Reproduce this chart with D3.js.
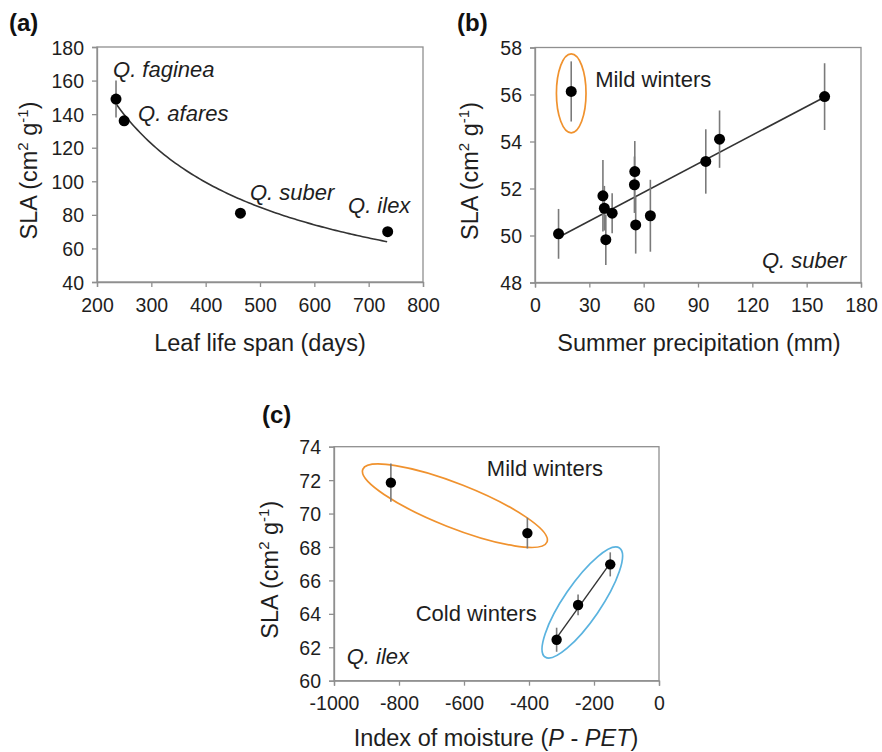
<!DOCTYPE html>
<html>
<head>
<meta charset="utf-8">
<script src="https://cdn.jsdelivr.net/npm/d3@7"></script>
<style>
  html, body { margin: 0; padding: 0; background: #fff; }
  svg { display: block; font-family: Arial, "Liberation Sans", Helvetica, sans-serif; }
</style>
</head>
<body>
<svg id="chart" width="882" height="752"></svg>
<script>
// ---------------- DATA ----------------
// Panel (a)
const aSpecies = ["Q. faginea", "Q. afares", "Q. suber", "Q. ilex"];
const aLifeSpan = [235, 250, 464, 735];
const aSLA = [149, 136, 81, 70];
const aErr = [11, 2.5, 1.5, 1.5];
const aFit = { a: 7653, b: -0.725, from: 234, to: 735 }; // power fit SLA = a * LLS^b
const aXTicks = [200, 300, 400, 500, 600, 700, 800];
const aYTicks = [40, 60, 80, 100, 120, 140, 160, 180];
const aLabelX = [229.5, 275.5, 481.6, 662];
const aLabelY = [162.1, 135.9, 88.9, 81.1];

// Panel (b)
const bPrecip = [13, 20, 37.5, 38.3, 39.1, 42.6, 55.1, 54.9, 55.6, 63.7, 94.3, 101.9, 159.9];
const bSLA = [50.07, 56.13, 51.69, 51.16, 49.82, 50.95, 52.72, 52.16, 50.45, 50.84, 53.15, 54.1, 55.91];
const bErr = [1.06, 1.28, 1.52, 0.95, 1.07, 0.85, 1.3, 1.2, 1.22, 1.53, 1.37, 1.22, 1.42];
const bFit = { intercept: 49.40, slope: 0.0406, from: 13, to: 160 };
const bXTicks = [0, 30, 60, 90, 120, 150, 180];
const bYTicks = [48, 50, 52, 54, 56, 58];

// Panel (c)
const cMoisture = [-825, -405, -315, -249, -150];
const cSLA = [71.85, 68.83, 62.45, 64.53, 66.96];
const cErr = [1.15, 0.92, 0.72, 0.62, 0.72];
const cFit = { intercept: 71.10, slope: 0.0271, from: -315, to: -150 };
const cXTicks = [-1000, -800, -600, -400, -200, 0];
const cYTicks = [60, 62, 64, 66, 68, 70, 72, 74];

// ---------------- STYLE ----------------
const TEXT = "#1e1e1e";
const FRAME = "#8f8f8f";
const ERRC = "#7a7a7a";
const LINEC = "#333";
const ORANGE = "#f0922e";
const BLUE = "#5ab3df";
const TICKFS = 19.5, TITLEFS = 23.5, ANNFS = 22;

const svg = d3.select("#chart");

function panel(cfg) {
  const g = svg.append("g");
  const x = d3.scaleLinear().domain(cfg.xDomain).range([cfg.left, cfg.right]);
  const y = d3.scaleLinear().domain(cfg.yDomain).range([cfg.bottom, cfg.top]);

  // frame
  g.append("rect").attr("x", cfg.left).attr("y", cfg.top)
    .attr("width", cfg.right - cfg.left).attr("height", cfg.bottom - cfg.top)
    .attr("fill", "none").attr("stroke", FRAME).attr("stroke-width", 1.3);

  const fmt = d => String(d);
  const xa = g.append("g").attr("transform", `translate(0,${cfg.bottom})`)
    .call(d3.axisBottom(x).tickValues(cfg.xTicks).tickSize(5).tickPadding(9).tickFormat(fmt));
  const ya = g.append("g").attr("transform", `translate(${cfg.left},0)`)
    .call(d3.axisLeft(y).tickValues(cfg.yTicks).tickSize(5).tickPadding(8).tickFormat(fmt));
  [xa, ya].forEach(a => {
    a.select(".domain").attr("stroke", FRAME).attr("stroke-width", 1.3);
    a.selectAll(".tick line").attr("stroke", FRAME).attr("stroke-width", 1.3);
    a.selectAll(".tick text").attr("fill", TEXT).attr("font-size", TICKFS)
      .attr("font-family", "Arial, 'Liberation Sans', sans-serif");
  });
  xa.selectAll(".tick text").attr("dy", "0.8em");
  ya.selectAll(".tick text").attr("dy", "0.36em");

  // panel letter
  g.append("text").attr("x", cfg.letterX).attr("y", cfg.letterY)
    .attr("font-size", 24).attr("font-weight", "bold").attr("fill", "#111")
    .text(cfg.letter);

  // y title SLA (cm2 g-1)
  const yt = g.append("text")
    .attr("transform", `translate(${cfg.yTitleX},${(cfg.top + cfg.bottom) / 2 + 6}) rotate(-90)`)
    .attr("text-anchor", "middle").attr("font-size", TITLEFS).attr("fill", TEXT);
  yt.append("tspan").text("SLA (cm");
  yt.append("tspan").attr("dy", -9).attr("font-size", 15).text("2");
  yt.append("tspan").attr("dy", 9).text(" g");
  yt.append("tspan").attr("dy", -9).attr("font-size", 15).text("-1");
  yt.append("tspan").attr("dy", 9).text(")");

  return { g, x, y };
}

function errorBars(p, xs, ys, es) {
  p.g.append("g").selectAll("line").data(xs).join("line")
    .attr("x1", (d) => p.x(d)).attr("x2", (d) => p.x(d))
    .attr("y1", (d, i) => p.y(ys[i] - es[i])).attr("y2", (d, i) => p.y(ys[i] + es[i]))
    .attr("stroke", ERRC).attr("stroke-width", 1.6);
}
function points(p, xs, ys, r) {
  p.g.append("g").selectAll("circle").data(xs).join("circle")
    .attr("cx", d => p.x(d)).attr("cy", (d, i) => p.y(ys[i])).attr("r", r)
    .attr("fill", "#000");
}
function ann(p, x, y, text, opts = {}) {
  const t = p.g.append("text").attr("x", p.x(x)).attr("y", p.y(y))
    .attr("font-size", opts.fs || ANNFS).attr("fill", TEXT)
    .attr("font-style", opts.italic ? "italic" : "normal")
    .attr("text-anchor", opts.anchor || "start");
  t.text(text);
  return t;
}
function ellipse(p, cx, cy, rx, ry, angle, color) {
  p.g.append("ellipse")
    .attr("transform", `translate(${p.x(cx)},${p.y(cy)}) rotate(${angle})`)
    .attr("rx", rx).attr("ry", ry)
    .attr("fill", "none").attr("stroke", color).attr("stroke-width", 1.7);
}

// ---------------- PANEL A ----------------
const A = panel({
  left: 97, right: 423, top: 47, bottom: 282,
  xDomain: [200, 800], yDomain: [40, 180], xTicks: aXTicks, yTicks: aYTicks,
  letter: "(a)", letterX: 9, letterY: 31, yTitleX: 37
});
const fitXs = d3.range(aFit.from, aFit.to + 1, 5);
A.g.append("path")
  .attr("d", d3.line().x(d => A.x(d)).y(d => A.y(aFit.a * Math.pow(d, aFit.b)))(fitXs))
  .attr("fill", "none").attr("stroke", LINEC).attr("stroke-width", 1.6);
errorBars(A, aLifeSpan, aSLA, aErr);
points(A, aLifeSpan, aSLA, 5.5);
aSpecies.forEach((s, i) => ann(A, aLabelX[i], aLabelY[i], s, { italic: true }));
A.g.append("text").attr("x", (97 + 423) / 2).attr("y", 351).attr("text-anchor", "middle")
  .attr("font-size", TITLEFS).attr("fill", TEXT).text("Leaf life span (days)");

// ---------------- PANEL B ----------------
const B = panel({
  left: 535, right: 861, top: 47.5, bottom: 282.5,
  xDomain: [0, 180], yDomain: [48, 58], xTicks: bXTicks, yTicks: bYTicks,
  letter: "(b)", letterX: 457, letterY: 31, yTitleX: 478
});
B.g.append("line")
  .attr("x1", B.x(bFit.from)).attr("y1", B.y(bFit.intercept + bFit.slope * bFit.from))
  .attr("x2", B.x(bFit.to)).attr("y2", B.y(bFit.intercept + bFit.slope * bFit.to))
  .attr("stroke", LINEC).attr("stroke-width", 1.6);
errorBars(B, bPrecip, bSLA, bErr);
points(B, bPrecip, bSLA, 5.5);
ellipse(B, 20, 56.05, 14.8, 39.5, 0, ORANGE);
ann(B, 33.2, 56.33, "Mild winters");
ann(B, 171.9, 48.62, "Q. suber", { italic: true, anchor: "end" });
B.g.append("text").attr("x", 699).attr("y", 351).attr("text-anchor", "middle")
  .attr("font-size", TITLEFS).attr("fill", TEXT).text("Summer precipitation (mm)");

// ---------------- PANEL C ----------------
const C = panel({
  left: 334, right: 659, top: 446.7, bottom: 680.7,
  xDomain: [-1000, 0], yDomain: [60, 74], xTicks: cXTicks, yTicks: cYTicks,
  letter: "(c)", letterX: 262, letterY: 423, yTitleX: 278
});
ellipse(C, -628, 70.47, 99, 22, 21.5, ORANGE);
ellipse(C, -236, 64.68, 66, 18.5, -55.7, BLUE);
C.g.append("line")
  .attr("x1", C.x(cFit.from)).attr("y1", C.y(cFit.intercept + cFit.slope * cFit.from))
  .attr("x2", C.x(cFit.to)).attr("y2", C.y(cFit.intercept + cFit.slope * cFit.to))
  .attr("stroke", LINEC).attr("stroke-width", 1.4);
errorBars(C, cMoisture, cSLA, cErr);
points(C, cMoisture, cSLA, 5.2);
ann(C, -529.7, 72.25, "Mild winters");
ann(C, -748.8, 63.57, "Cold winters");
ann(C, -961, 61.0, "Q. ilex", { italic: true });
const ct = C.g.append("text").attr("x", 496).attr("y", 746).attr("text-anchor", "middle")
  .attr("font-size", TITLEFS).attr("fill", TEXT);
ct.append("tspan").text("Index of moisture (");
ct.append("tspan").attr("font-style", "italic").text("P");
ct.append("tspan").text(" - ");
ct.append("tspan").attr("font-style", "italic").text("PET");
ct.append("tspan").text(")");
</script>
</body>
</html>
